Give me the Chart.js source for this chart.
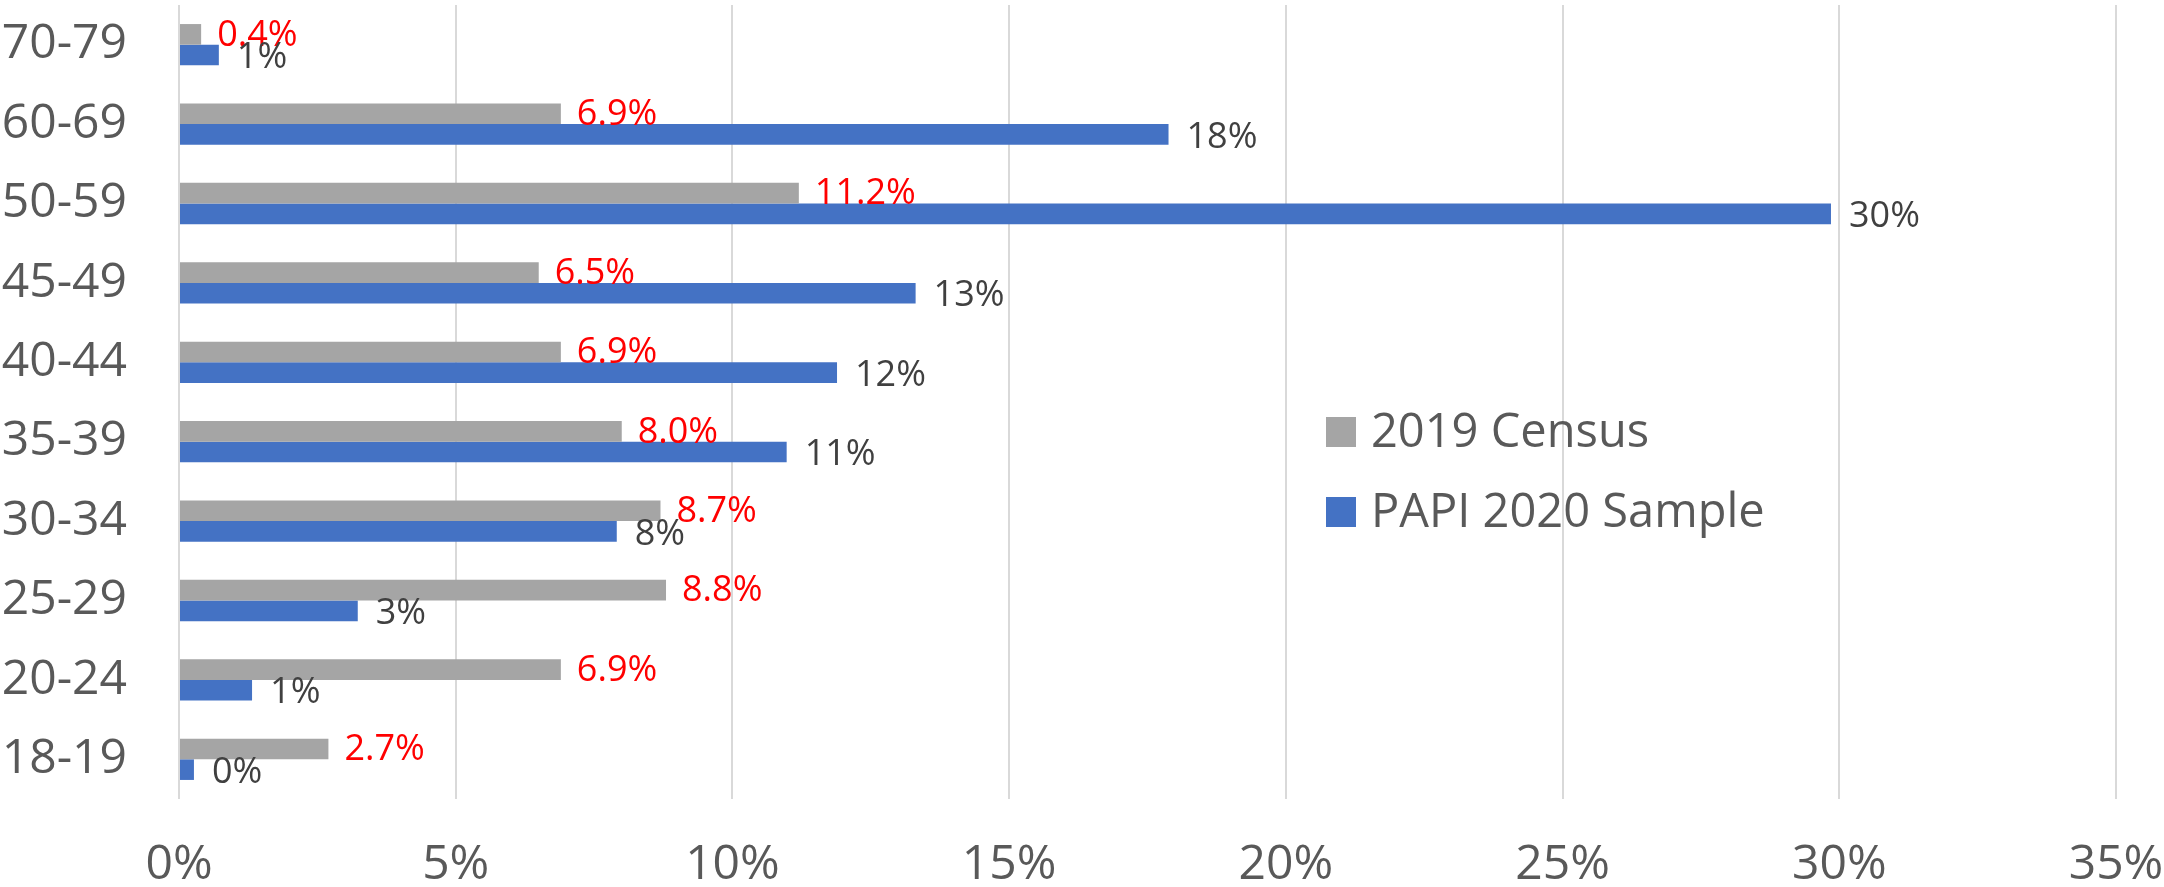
<!DOCTYPE html>
<html>
<head>
<meta charset="utf-8">
<script src="https://cdn.jsdelivr.net/npm/chart.js@4.4.1/dist/chart.umd.min.js"></script>
<style>
  html, body { margin: 0; padding: 0; background: #fff; }
  #wrap { width: 2164px; height: 887px; position: relative; }
</style>
</head>
<body>
<div id="wrap"><canvas id="myChart"></canvas></div>
<script>
// age groups, bottom to top
var ageGroups = ["18-19", "20-24", "25-29", "30-34", "35-39", "40-44", "45-49", "50-59", "60-69", "70-79"];
var census2019 = [2.7, 6.9, 8.8, 8.7, 8.0, 6.9, 6.5, 11.2, 6.9, 0.4];
var papi2020 = [0.27, 1.32, 3.23, 7.91, 10.98, 11.89, 13.31, 29.85, 17.88, 0.72];
var xTickValues = [0, 5, 10, 15, 20, 25, 30, 35];

var FONT = "'Open Sans', 'Noto Sans', sans-serif";

// value labels to the right of each bar
var barLabels = {
  id: "barLabels",
  afterDatasetsDraw: function (chart) {
    var ctx = chart.ctx;
    ctx.save();
    ctx.font = "36px " + FONT;
    ctx.textAlign = "left";
    ctx.textBaseline = "middle";
    chart.data.datasets.forEach(function (ds, i) {
      var meta = chart.getDatasetMeta(i);
      meta.data.forEach(function (bar, j) {
        var v = ds.data[j];
        if (i === 0) {
          ctx.fillStyle = "#FF0000";
          ctx.fillText(v.toFixed(1) + "%", bar.x + 16, bar.y + 1);
        } else {
          ctx.fillStyle = "#404040";
          ctx.fillText(v.toFixed(0) + "%", bar.x + 18, bar.y + 3);
        }
      });
    });
    ctx.restore();
  },
};

// legend sitting inside the plot area
var innerLegend = {
  id: "innerLegend",
  afterDraw: function (chart) {
    var ctx = chart.ctx;
    ctx.save();
    ctx.font = "47px " + FONT;
    ctx.textBaseline = "middle";
    ctx.textAlign = "left";
    chart.data.datasets.forEach(function (ds, i) {
      var y = 432 + i * 80;
      ctx.fillStyle = ds.backgroundColor;
      ctx.fillRect(1326, y - 15, 30, 30);
      ctx.fillStyle = "#595959";
      ctx.fillText(ds.label, 1371, y + 2);
    });
    ctx.restore();
  },
};

var ctx = document.getElementById("myChart").getContext("2d");
var myChart = new Chart(ctx, {
  type: "bar",
  data: {
    labels: ageGroups,
    datasets: [
      {
        label: "2019 Census",
        data: census2019,
        backgroundColor: "#A5A5A5",
        categoryPercentage: 0.52,
        barPercentage: 1,
      },
      {
        label: "PAPI 2020 Sample",
        data: papi2020,
        backgroundColor: "#4472C4",
        categoryPercentage: 0.52,
        barPercentage: 1,
      },
    ],
  },
  options: {
    indexAxis: "y",
    responsive: true,
    maintainAspectRatio: false,
    animation: false,
    layout: { padding: { top: 5, right: 48, bottom: 0, left: 0 } },
    plugins: {
      legend: { display: false },
      tooltip: { enabled: false },
    },
    scales: {
      x: {
        min: 0,
        max: 35,
        afterBuildTicks: function (axis) {
          axis.ticks = xTickValues.map(function (v) { return { value: v }; });
        },
        afterFit: function (axis) {
          axis.height = 88;
          axis.paddingLeft = 0;
          axis.paddingRight = 0;
        },
        grid: { color: "#D9D9D9", lineWidth: 2, drawTicks: false },
        border: { display: false },
        ticks: {
          padding: 38,
          color: "#595959",
          font: { family: FONT, size: 48 },
          callback: function (v) { return v + "%"; },
        },
      },
      y: {
        reverse: true,
        afterFit: function (axis) {
          axis.width = 179;
          axis.paddingTop = 0;
          axis.paddingBottom = 0;
        },
        grid: { display: false, drawTicks: false },
        border: { display: false },
        ticks: {
          padding: 52,
          color: "#595959",
          font: { family: FONT, size: 48 },
        },
      },
    },
  },
  plugins: [barLabels, innerLegend],
});
</script>
</body>
</html>
